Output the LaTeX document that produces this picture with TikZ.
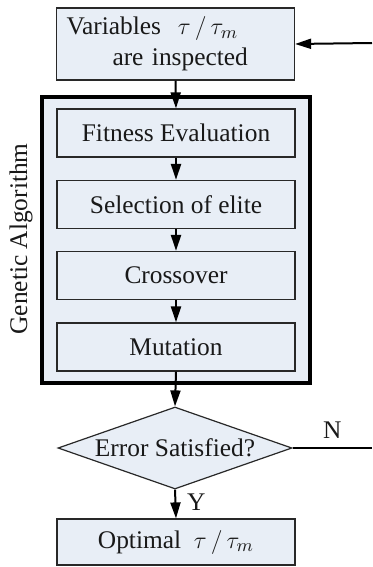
\documentclass[tikz,border=0pt]{standalone}
\usepackage{fontspec}
\setmainfont{Liberation Serif}
\usetikzlibrary{shapes.geometric, arrows.meta, positioning}
\definecolor{gafill}{RGB}{232, 238, 246}
\definecolor{galine}{RGB}{40, 40, 40}

\begin{document}
\begin{tikzpicture}[x=0.5pt, y=-0.5pt,
  every node/.style={font=\fontsize{12.7}{15.5}\selectfont, text=black!90},
  gbox/.style={draw=galine, fill=gafill, line width=0.6pt, minimum width=119pt, minimum height=24pt, inner sep=2pt},
  gframe/.style={draw=black, fill=gafill, line width=2pt, minimum width=134pt, minimum height=143pt},
  gdec/.style={diamond, draw=galine, fill=gafill, line width=0.6pt, minimum width=117pt, minimum height=41pt, inner sep=0pt, aspect=2.85},
  garrow/.style={line width=1pt, -{Triangle[width=5pt, length=8pt]}}
]
  \useasboundingbox (0,0) rectangle (372,567);

  \node[gframe] (ga) at (176,240) {};
  \node[rotate=90] (galabel) at (21,239) {Genetic Algorithm};

  \node[gbox, minimum height=36pt, text width=109pt, align=left] (vars) at (175.5,44)
    {Variables~~$\tau\,/\,\tau_{m}$\\\hspace*{23pt}are inspected};
  \node[gbox] (fit) at (176,133) {Fitness Evaluation};
  \node[gbox] (sel) at (176,204.5) {Selection of elite};
  \node[gbox] (cross) at (176,275.5) {Crossover};
  \node[gbox] (mut) at (176,347) {Mutation};
  \node[gdec] (err) at (175,448) {Error Satisfied?};
  \node[gbox, minimum height=23pt] (opt) at (176,542) {Optimal~~$\tau\,/\,\tau_{m}$};

  \coordinate (fbin) at (372,43);
  \coordinate (fbout) at (372,448);

  \draw[garrow] (fbin) -- (vars.east);
  \draw[garrow] (vars.south) -- (fit.north);
  \draw[garrow] (fit.south) -- (sel.north);
  \draw[garrow] (sel.south) -- (cross.north);
  \draw[garrow] (cross.south) -- (mut.north);
  \draw[garrow] (mut.south) -- (err.north);
  \draw[garrow] (err.south) -- node[right=2pt, pos=0.45] (ylab) {Y} (opt.north);
  \draw[line width=1pt] (err.east) -- node[above=1pt, pos=0.5] (nlab) {N} (fbout);
\end{tikzpicture}
\end{document}
